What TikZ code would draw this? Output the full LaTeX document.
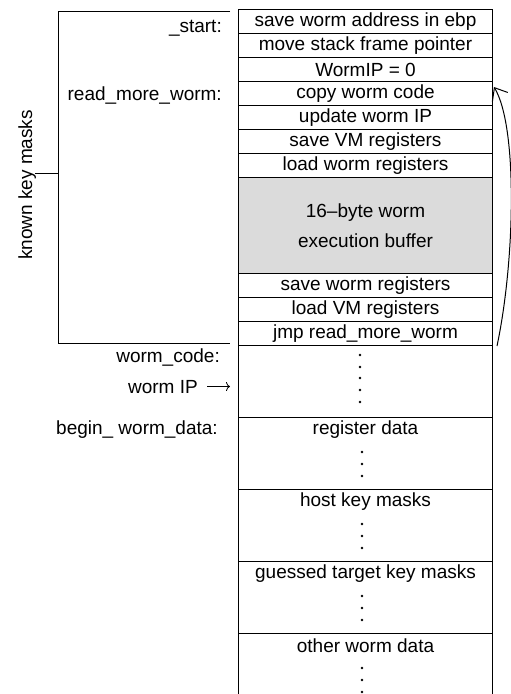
\documentclass[tikz,border=0pt]{standalone}
\usepackage{fontspec}
\setmainfont{Liberation Sans}
\usetikzlibrary{arrows.meta}
\begin{document}
\begin{tikzpicture}[
    x=1pt, y=-1pt,
    font=\fontsize{19}{23}\selectfont,
    cell/.style={draw, line width=1pt, anchor=north west, minimum width=254pt, minimum height=24pt, inner sep=0pt},
    region/.style={cell, minimum height=72pt},
    buffer/.style={cell, minimum height=96pt, fill=black!14, align=center, font=\fontsize{19}{30}\selectfont},
    heading/.style={anchor=north, minimum height=24pt, inner sep=0pt},
    lbl/.style={anchor=base east, inner sep=0pt},
    jumpback/.style={-{Straight Barb[length=11pt,width=18pt]}, line width=1pt}
]
\useasboundingbox (0,0) rectangle (511,694);

% vm code
\node[cell] (save) at (238,9) {save worm address in ebp};
\node[cell] (movesp) at (238,33) {move stack frame pointer};
\node[cell] (ipzero) at (238,57) {WormIP = 0};
\node[cell] (copy) at (238,81) {copy worm code};
\node[cell] (update) at (238,105) {update worm IP};
\node[cell] (savevm) at (238,129) {save VM registers};
\node[cell] (loadworm) at (238,153) {load worm registers};
\node[buffer] (execbuf) at (238,177) {16--byte worm\\execution buffer};
\node[cell] (saveworm) at (238,273) {save worm registers};
\node[cell] (loadvm) at (238,297) {load VM registers};
\node[cell] (jmp) at (238,321) {jmp read\_more\_worm};

% worm code and data
\node[region] (code) at (238,345) {};
\node[region] (regdata) at (238,417) {};
\node[region] (hostkeys) at (238,489) {};
\node[region] (guessed) at (238,561) {};
\node[region] (other) at (238,633) {};
\node[heading] at (regdata.north) {register data};
\node[heading] at (hostkeys.north) {host key masks};
\node[heading] at (guessed.north) {guessed target key masks};
\node[heading] at (other.north) {other worm data};
\foreach \y in {355,367,378,390,402} \fill (360,\y) circle (1.3);
\foreach \t in {417,489,561,633}
  \foreach \d in {35,47,59} \fill (362,\t+\d) circle (1.3);

% labels
\node[lbl] (start) at (222,32) {\_start:};
\node[lbl] (readmore) at (222,100) {read\_more\_worm:};
\node[lbl] (codelbl) at (220,362) {worm\_code:};
\node[lbl] (wormip) at (198,393) {worm IP};
\node[lbl] (datalbl) at (218,434) {begin\_ worm\_data:};
\coordinate (ipmark) at (230,386.5);
\draw[-{To[length=4pt,width=9pt]}, line width=0.8pt] ([xshift=9pt]wormip.east) -- (ipmark);

% known key masks bracket
\draw[line width=1pt] (230,11) -- (58,11) -- (58,343) -- (230,343);
\coordinate (brk) at (58,173);
\coordinate (tick) at (35,173);
\draw[line width=1pt] (tick) -- (brk);
\node[rotate=90, anchor=base, inner sep=0pt] (keymasks) at (32,185) {known key masks};

% jump back
\draw[jumpback] ([xshift=4pt]jmp.south east) .. controls +(18,-85) and +(24,40) .. ([xshift=1pt,yshift=-6pt]copy.north east);

\end{tikzpicture}
\end{document}
